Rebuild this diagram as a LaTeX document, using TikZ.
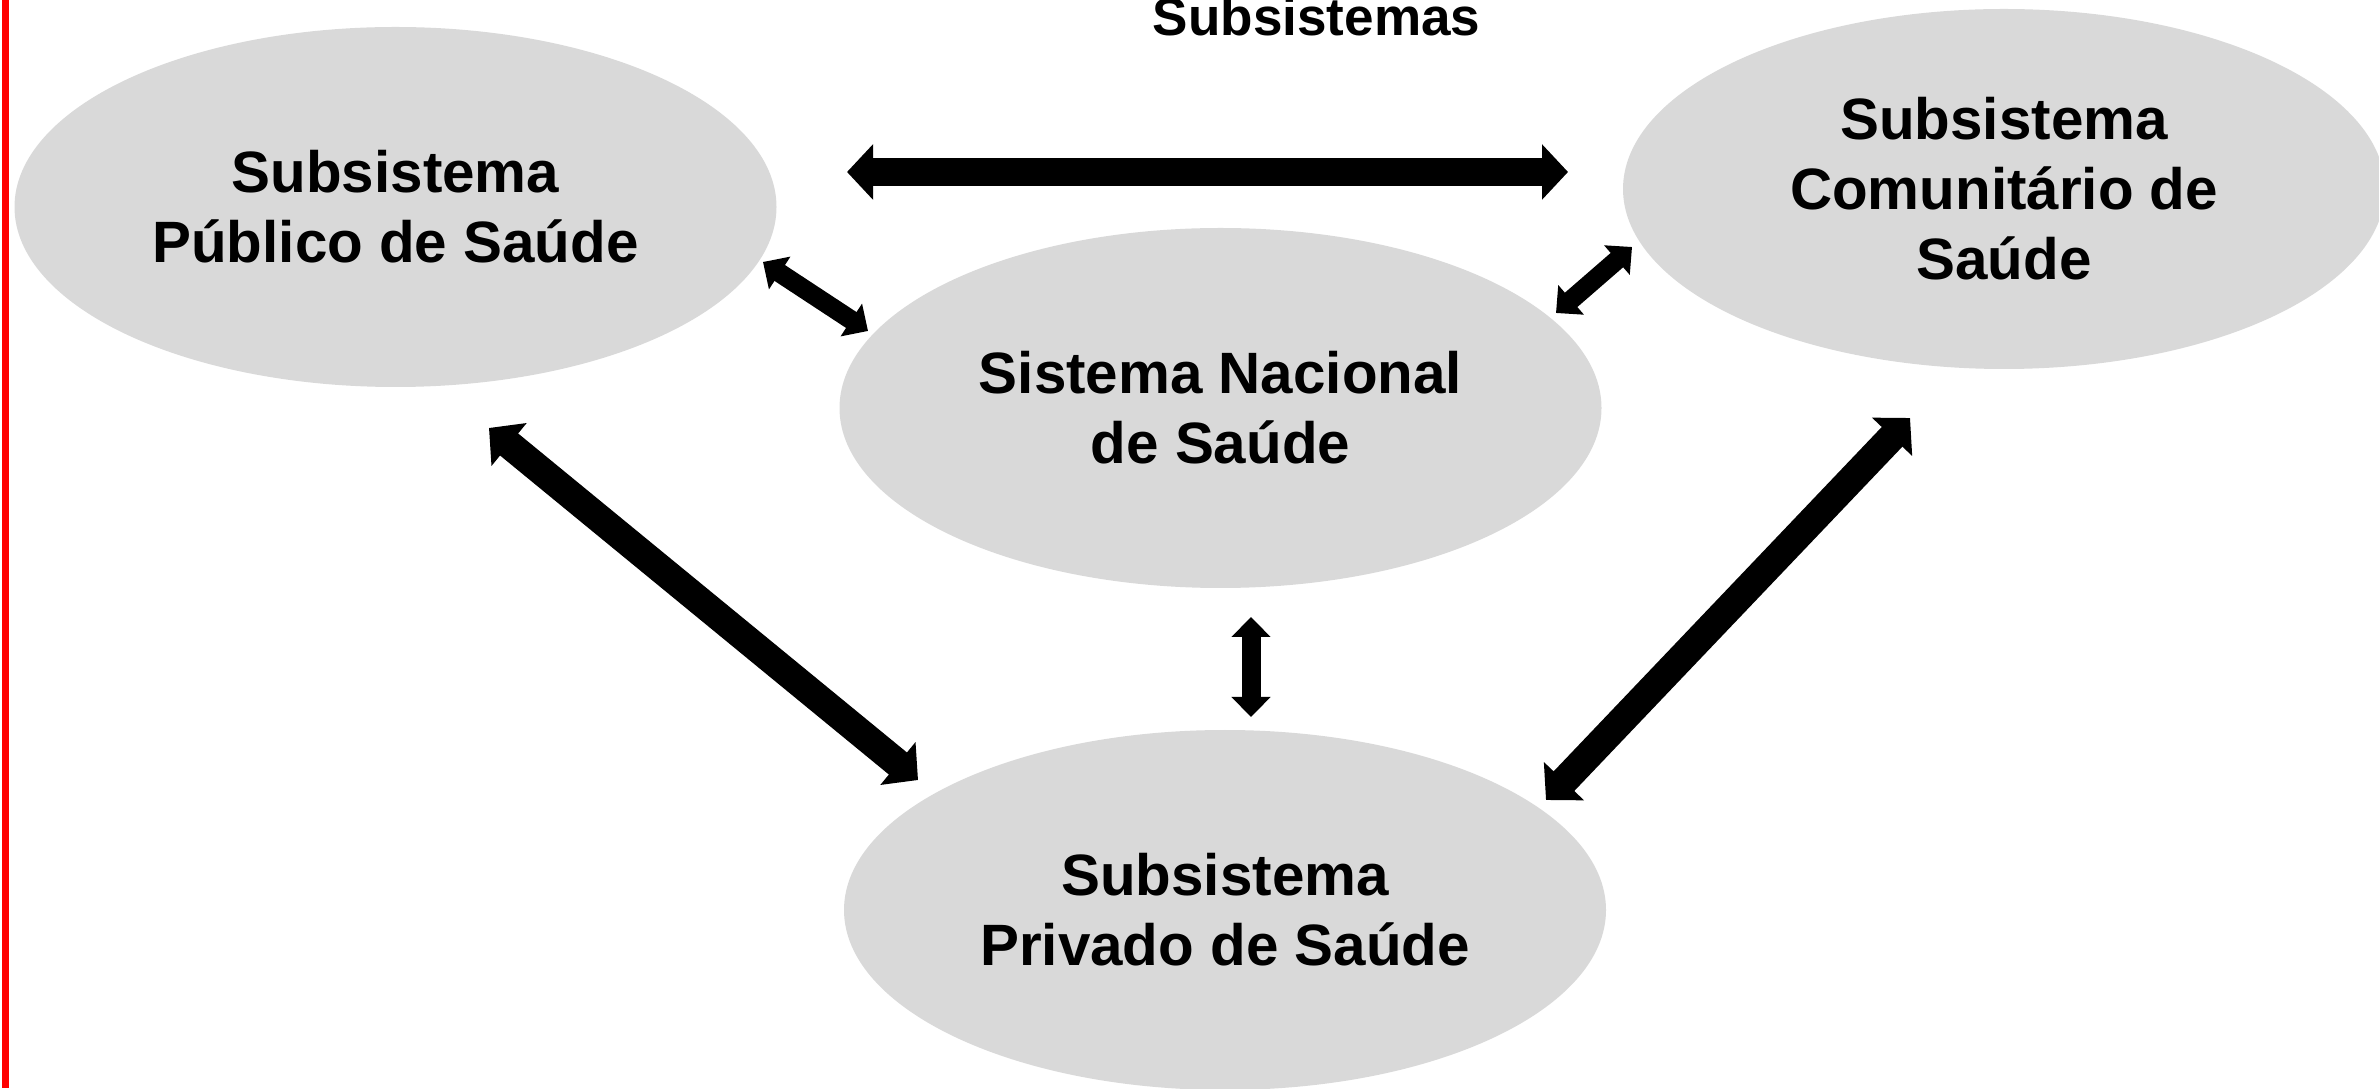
\documentclass[tikz,border=0pt]{standalone}
\usepackage{fontspec}
\setmainfont{Liberation Sans}
\usetikzlibrary{shapes.geometric,arrows.meta}
\definecolor{cinzabolha}{HTML}{D9D9D9}
\begin{document}
\begin{tikzpicture}[
        bolha/.style={ellipse,fill=cinzabolha,minimum width=7.62cm,minimum height=3.6cm,inner sep=0pt,align=center,font=\fontsize{16.6}{19.9}\selectfont\bfseries},
        setagrande/.style={line width=2.85mm,>={Triangle[width=5.4mm,length=2.6mm]},<->},
        setapequena/.style={line width=1.9mm,>={Triangle[width=3.8mm,length=2mm]},<->}]
        \useasboundingbox (0,0) rectangle (23.79,10.88);
        \fill[red] (0.02,0) rectangle (0.09,10.88);

        \node[anchor=base,font=\fontsize{15.1}{18}\selectfont\bfseries] (titulo) at (13.165,10.52) {Subsistemas};

        \node[bolha] (publico) at (3.955,8.81) {Subsistema\\Público de Saúde};
        \node[bolha] (nacional) at (12.205,6.80) {Sistema Nacional\\de Saúde};
        \node[bolha] (comunitario) at (20.04,8.99) {Subsistema\\Comunitário de\\Saúde};
        \node[bolha] (privado) at (12.25,1.78) {Subsistema\\Privado de Saúde};

        \coordinate (pc1) at (8.47,9.16);
        \coordinate (pc2) at (15.68,9.16);
        \coordinate (pn1) at (7.63,8.26);
        \coordinate (pn2) at (8.68,7.57);
        \coordinate (cn1) at (16.32,8.41);
        \coordinate (cn2) at (15.56,7.75);
        \coordinate (np1) at (12.51,4.71);
        \coordinate (np2) at (12.51,3.71);
        \coordinate (pp1) at (4.89,6.60);
        \coordinate (pp2) at (9.18,3.08);
        \coordinate (cp1) at (19.10,6.70);
        \coordinate (cp2) at (15.46,2.88);

        \draw[setagrande] (pc1) -- (pc2);
        \draw[setapequena] (pn1) -- (pn2);
        \draw[setapequena] (cn1) -- (cn2);
        \draw[setapequena] (np1) -- (np2);
        \draw[setagrande] (pp1) -- (pp2);
        \draw[setagrande] (cp1) -- (cp2);
    \end{tikzpicture}
\end{document}
